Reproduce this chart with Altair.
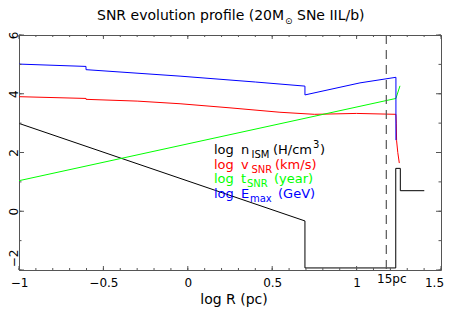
import altair as alt
import pandas as pd

# ---- data (x = log R in pc) ----
n_x = [-1.0, 0.694, 0.694, 1.232, 1.232, 1.259, 1.259, 1.401]
n_y = [2.99, -0.33, -1.93, -1.93, 1.46, 1.46, 0.70, 0.70]

v_x = [-1.0, -0.603, -0.603, -0.30, -0.046, 0.25, 0.546, 0.75, 1.0, 1.233, 1.235, 1.237, 1.244, 1.253]
v_y = [3.90, 3.84, 3.81, 3.75, 3.66, 3.52, 3.37, 3.30, 3.33, 3.30, 3.00, 2.40, 2.00, 1.64]

t_x = [-1.0, 1.233, 1.257]
t_y = [1.04, 3.84, 4.27]

e_x = [-1.0, -0.603, -0.603, -0.046, 0.40, 0.694, 0.694, 1.02, 1.233, 1.233]
e_y = [5.01, 4.93, 4.82, 4.60, 4.40, 4.26, 3.96, 4.37, 4.56, 2.42]

x_labels = [-1, -0.5, 0, 0.5, 1, 1.5]
y_labels = [-2, 0, 2, 4, 6]
x_minor = [round(-1 + 0.1 * i, 1) for i in range(26)]
y_minor = [-2, -1, 0, 1, 2, 3, 4, 5, 6]
r15 = 1.176  # log10(15)

W, H = 422, 235
FONT = "DejaVu Sans"
FRAME = "#555555"

xs = alt.Scale(domain=[-1, 1.5], nice=False, zero=False)
ys = alt.Scale(domain=[-2, 6], nice=False, zero=False)


def series(xv, yv):
    return pd.DataFrame({"x": xv, "y": yv, "i": list(range(len(xv)))})


def line(df, color):
    return alt.Chart(df).mark_line(color=color, strokeWidth=1, clip=True).encode(
        x=alt.X("x:Q", scale=xs, axis=alt.Axis(values=x_labels, format="~g", title=None,
                                               labelFont=FONT, labelFontSize=12, labelColor="black",
                                               labelFlush=False,
                                               labelOffset={"condition": {"test": "datum.value == 1.5", "value": -7},
                                                            "value": 0},
                                               labelPadding=7, domain=False, ticks=False, tickSize=0,
                                               grid=False)),
        y=alt.Y("y:Q", scale=ys, axis=alt.Axis(values=y_labels, format="~g", title=None,
                                               labelFont=FONT, labelFontSize=12, labelColor="black",
                                               labelAngle=270, labelAlign="center", labelBaseline="middle",
                                               labelOffset={"condition": {"test": "datum.value == -2", "value": -12},
                                                            "value": 0},
                                               labelPadding=6, domain=False, ticks=False, tickSize=0,
                                               grid=False)),
        order="i:Q",
    )


one = alt.Data(values=[{"a": 0}])


def txt(s, px, py, color="black", size=13, align="left"):
    return alt.Chart(one).mark_text(text=s, font=FONT, fontSize=size, color=color,
                                    align=align, baseline="alphabetic").encode(
        x=alt.value(px), y=alt.value(py))


# ticks (inward, on all four sides)
xmaj = pd.DataFrame({"x": x_labels})
xmin = pd.DataFrame({"x": x_minor})
ymaj = pd.DataFrame({"y": [-2, 0, 2, 4, 6]})
ymin = pd.DataFrame({"y": y_minor})

tk = dict(color=FRAME, strokeWidth=1)
ticks = [
    alt.Chart(xmin).mark_rule(**tk).encode(x=alt.X("x:Q", scale=xs), y=alt.value(H), y2=alt.value(H - 2)),
    alt.Chart(xmaj).mark_rule(**tk).encode(x=alt.X("x:Q", scale=xs), y=alt.value(H), y2=alt.value(H - 4)),
    alt.Chart(xmin).mark_rule(**tk).encode(x=alt.X("x:Q", scale=xs), y=alt.value(0), y2=alt.value(2)),
    alt.Chart(xmaj).mark_rule(**tk).encode(x=alt.X("x:Q", scale=xs), y=alt.value(0), y2=alt.value(4)),
    alt.Chart(ymin).mark_rule(**tk).encode(y=alt.Y("y:Q", scale=ys), x=alt.value(0), x2=alt.value(2.5)),
    alt.Chart(ymaj).mark_rule(**tk).encode(y=alt.Y("y:Q", scale=ys), x=alt.value(0), x2=alt.value(5)),
    alt.Chart(ymin).mark_rule(**tk).encode(y=alt.Y("y:Q", scale=ys), x=alt.value(W), x2=alt.value(W - 2.5)),
    alt.Chart(ymaj).mark_rule(**tk).encode(y=alt.Y("y:Q", scale=ys), x=alt.value(W), x2=alt.value(W - 5)),
]

dash = alt.Chart(pd.DataFrame({"x": [r15]})).mark_rule(
    color=FRAME, strokeWidth=1.2, strokeDash=[9, 6]).encode(
    x=alt.X("x:Q", scale=xs), y=alt.value(0), y2=alt.value(H))

lines = [
    line(series(n_x, n_y), "black"),
    line(series(v_x, v_y), "#ff0000"),
    line(series(t_x, t_y), "#00ff00"),
    line(series(e_x, e_y), "#0000ff"),
]

texts = [
    # title
    txt("SNR evolution profile (20M", 78, -15, size=14),
    txt("\u2299", 266, -11.5, size=9),
    txt("SNe IIL/b)", 278, -15, size=14),
    # axis title and special label
    txt("log R (pc)", 215, 269, size=14, align="center"),
    txt("15pc", 358, 248, size=12),
    # legend row 1
    txt("log", 195, 119), txt("n", 222, 119), txt("ISM", 232.5, 123, size=10),
    txt("(H/cm", 254, 119), txt("3", 294, 113, size=10), txt(")", 301, 119),
    # legend row 2
    txt("log", 195, 133.5, "#ff0000"), txt("v", 222, 133.5, "#ff0000"),
    txt("SNR", 232.5, 137.5, "#ff0000", size=10), txt("(km/s)", 256, 133.5, "#ff0000"),
    # legend row 3
    txt("log", 195, 148, "#00ff00"), txt("t", 222, 148, "#00ff00"),
    txt("SNR", 228, 152, "#00ff00", size=10), txt("(year)", 255, 148, "#00ff00"),
    # legend row 4
    txt("log", 195, 162.5, "#0000ff"), txt("E", 222, 162.5, "#0000ff"),
    txt("max", 231, 166.5, "#0000ff", size=10), txt("(GeV)", 259, 162.5, "#0000ff"),
]

chart = alt.layer(*lines, dash, *ticks, *texts).properties(
    width=W, height=H,
    autosize=alt.AutoSizeParams(type="none"),
    padding={"left": 11, "top": 27, "right": 3, "bottom": 38},
    background="white",
).configure_view(stroke=FRAME, strokeWidth=1)

chart.save("out.html", embed_options={"renderer": "svg", "actions": False})
